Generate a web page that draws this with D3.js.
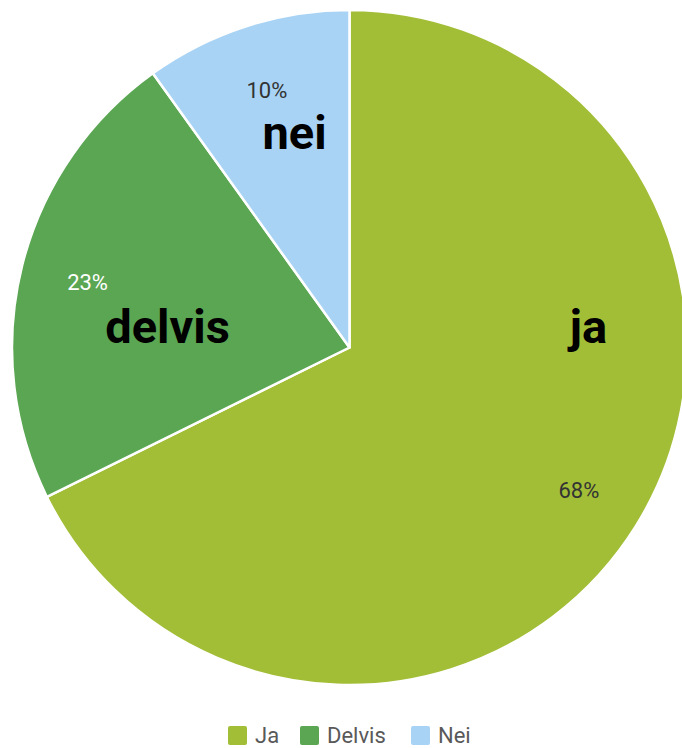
<!DOCTYPE html>
<html>
<head>
<meta charset="utf-8">
<script src="https://cdn.jsdelivr.net/npm/d3@7"></script>
<style>
  html, body { margin: 0; padding: 0; background: #fff; }
  svg { display: block; font-family: Roboto, "Open Sans", sans-serif; }
</style>
</head>
<body>
<svg id="chart"></svg>
<script>
// data
const categories = ['Ja', 'Delvis', 'Nei'];
const values = [67.7, 22.4, 9.9];
const pctLabels = ['68%', '23%', '10%'];
const colors = ['#a2be37', '#5ba653', '#a8d3f5'];
const pctColors = ['#333333', '#ffffff', '#333333'];

// hand placed bold annotations (offsets from centre)
const notes = [
  { text: 'ja', dx: 239, dy: -21 },
  { text: 'delvis', dx: -182, dy: -21 },
  { text: 'nei', dx: -55, dy: -215 }
];

const width = 682, height = 748;
const cx = 349.5, cy = 347.5, radius = 337.5;

const svg = d3.select('#chart').attr('width', width).attr('height', height);

const pie = d3.pie().sort(null).value(d => d.value);
const arcs = pie(categories.map((c, i) => ({ name: c, value: values[i], i: i })));

const arc = d3.arc().innerRadius(0).outerRadius(radius);
const labelArc = d3.arc().innerRadius(radius * 0.8).outerRadius(radius * 0.8);

const g = svg.append('g').attr('transform', `translate(${cx},${cy})`);

g.selectAll('path.slice')
  .data(arcs)
  .enter()
  .append('path')
  .attr('class', 'slice')
  .attr('d', arc)
  .attr('fill', d => colors[d.data.i])
  .attr('stroke', '#fff')
  .attr('stroke-width', 2.5)
  .attr('stroke-linejoin', 'round');

g.selectAll('text.pct')
  .data(arcs)
  .enter()
  .append('text')
  .attr('class', 'pct')
  .attr('transform', d => `translate(${labelArc.centroid(d)})`)
  .attr('text-anchor', 'middle')
  .attr('dy', '0.35em')
  .attr('fill', d => pctColors[d.data.i])
  .style('font-size', '22px')
  .text(d => pctLabels[d.data.i]);

g.selectAll('text.note')
  .data(notes)
  .enter()
  .append('text')
  .attr('class', 'note')
  .attr('x', d => d.dx)
  .attr('y', d => d.dy)
  .attr('text-anchor', 'middle')
  .attr('dy', '0.35em')
  .style('font-size', '47px')
  .style('font-weight', 'bold')
  .attr('fill', '#000')
  .text(d => d.text);

// legend
const legendX = [228, 300, 411];
const legend = svg.append('g').attr('transform', 'translate(0,735)');
const items = legend.selectAll('g.item')
  .data(categories)
  .enter()
  .append('g')
  .attr('class', 'item')
  .attr('transform', (d, i) => `translate(${legendX[i]},0)`);

items.append('rect')
  .attr('x', 0)
  .attr('y', -9)
  .attr('width', 19)
  .attr('height', 19)
  .attr('rx', 2)
  .attr('fill', (d, i) => colors[i]);

items.append('text')
  .attr('x', 27)
  .attr('y', 8)
  .attr('fill', '#595959')
  .style('font-size', '22px')
  .text(d => d);
</script>
</body>
</html>
